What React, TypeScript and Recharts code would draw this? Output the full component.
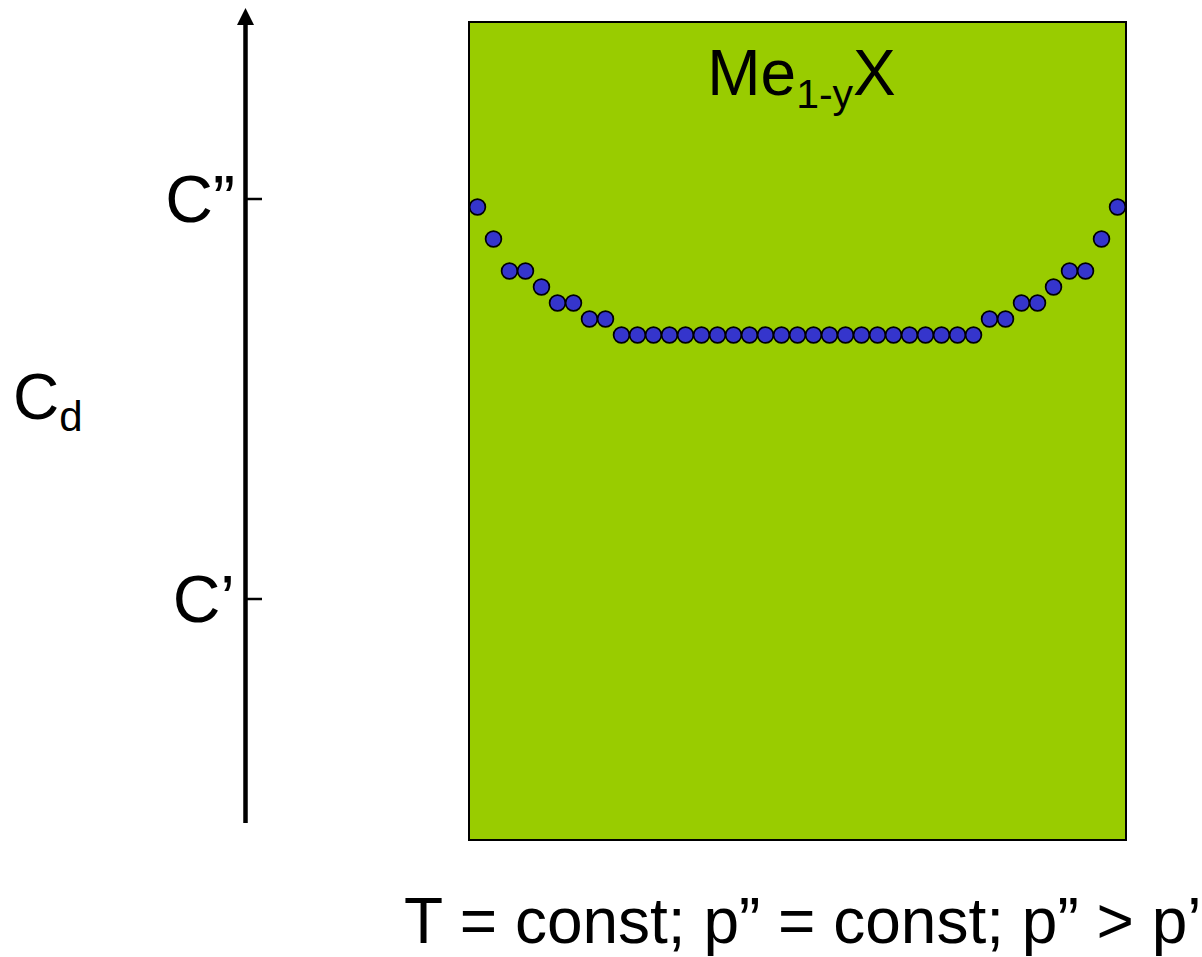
import React from "react";
import {
  ComposedChart,
  Scatter,
  XAxis,
  YAxis,
  ReferenceArea,
  Customized,
} from "recharts";

// Defect concentration at each point along the crystal (left surface -> right surface)
const cdValues = [
  1.98, 1.9, 1.82, 1.82, 1.78, 1.74, 1.74, 1.7, 1.7,
  1.66, 1.66, 1.66, 1.66, 1.66, 1.66, 1.66, 1.66, 1.66, 1.66, 1.66, 1.66,
  1.66, 1.66, 1.66, 1.66, 1.66, 1.66, 1.66, 1.66, 1.66, 1.66, 1.66,
  1.7, 1.7, 1.74, 1.74, 1.78, 1.82, 1.82, 1.9, 1.98,
];

// Reference levels on the Cd axis
const levelTicks = [1, 2];
const levelLabels: Record<number, string> = { 1: "C\u2019", 2: "C\u201D" };

const xDomain = [-0.53, 40.53];
const yDomain = [0.3975, 2.4425];

const FONT = "'Liberation Sans', Arial, Helvetica, sans-serif";
const GREEN = "#99CC00";
const DOT = "#3535CC";

const data = cdValues.map((cd, i) => ({ pos: i, cd }));

const LevelTick = (props: any) => {
  const { y, payload } = props;
  return (
    <g>
      <line x1={247} x2={262} y1={y} y2={y} stroke="#000" strokeWidth={2.5} />
      <text
        x={235}
        y={y + 23}
        textAnchor="end"
        fontSize={66}
        fontFamily={FONT}
        fill="#000"
      >
        {levelLabels[payload.value]}
      </text>
    </g>
  );
};

const Dot = (props: any) => {
  const { cx, cy } = props;
  return (
    <circle cx={cx} cy={cy} r={7.9} fill={DOT} stroke="#000" strokeWidth={1.7} />
  );
};

// Phase name inside the crystal box
const PhaseTitle = (props: any) => {
  const { viewBox } = props;
  const cx = viewBox.x + viewBox.width / 2 + 4;
  return (
    <text x={cx} y={viewBox.y + 73} fontSize={64} textAnchor="middle" fontFamily={FONT} fill="#000">
      Me
      <tspan fontSize={41} dy={13}>
        1-y
      </tspan>
      <tspan dy={-13}>X</tspan>
    </text>
  );
};

// Vertical Cd axis with arrow head, plus the text annotations
const Decorations = () => (
  <g fontFamily={FONT} fill="#000">
    <line x1={245.5} x2={245.5} y1={823} y2={20} stroke="#000" strokeWidth={4.5} />
    <polygon points="245.5,8 237,25 254,25" fill="#000" />
    <text x={13} y={419} fontSize={64}>
      C
      <tspan fontSize={42} dy={12}>
        d
      </tspan>
    </text>
    <text x={404} y={943} fontSize={64}>
      {"T = const; p\u201D = const; p\u201D > p\u2019"}
    </text>
  </g>
);

export default function App() {
  return (
    <div style={{ position: "absolute", left: 0, top: 0, background: "#fff" }}>
      <ComposedChart
        width={1202}
        height={957}
        data={data}
        margin={{ top: 22, right: 76, bottom: 117, left: 0 }}
      >
        <XAxis
          type="number"
          dataKey="pos"
          domain={xDomain}
          allowDataOverflow
          hide
        />
        <YAxis
          type="number"
          dataKey="cd"
          domain={yDomain}
          allowDataOverflow
          ticks={levelTicks}
          width={469}
          axisLine={false}
          tickLine={false}
          tick={<LevelTick />}
        />
        <ReferenceArea
          x1={xDomain[0]}
          x2={xDomain[1]}
          y1={yDomain[0]}
          y2={yDomain[1]}
          fill={GREEN}
          fillOpacity={1}
          stroke="#000"
          strokeWidth={2}
          label={<PhaseTitle />}
        />
        <Scatter
          dataKey="cd"
          shape={<Dot />}
          isAnimationActive={false}
        />
        <Customized component={Decorations} />
      </ComposedChart>
    </div>
  );
}
